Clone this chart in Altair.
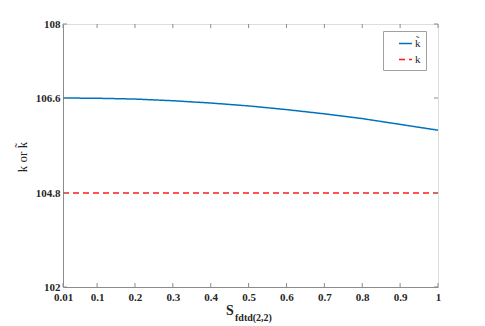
import altair as alt
import pandas as pd

# data
s_vals = [0.01, 0.1, 0.2, 0.3, 0.4, 0.5, 0.6, 0.7, 0.8, 0.9, 1.0]
k_tilde = [106.60, 106.595, 106.58, 106.548, 106.505, 106.45, 106.38, 106.30, 106.21, 106.10, 105.99]
k_const = [104.8] * len(s_vals)
x_ticks = [0.01, 0.1, 0.2, 0.3, 0.4, 0.5, 0.6, 0.7, 0.8, 0.9, 1.0]
y_ticks = [102, 104.8, 106.6, 108]
series_names = ["k\u0303", "k"]

W, H = 375, 263
FONT = "Liberation Serif"
AXIS_GREY = "#8c8c8c"

rows = []
for s, a, b in zip(s_vals, k_tilde, k_const):
    rows.append({"s": s, "k": a, "series": series_names[0]})
    rows.append({"s": s, "k": b, "series": series_names[1]})
df = pd.DataFrame(rows)

xscale = alt.Scale(domain=[0.01, 1.0], nice=False, zero=False)
yscale = alt.Scale(domain=y_ticks, range=[H, 169, 74, 0], nice=False, zero=False)

xaxis = alt.Axis(values=x_ticks, title=None, ticks=False, labelFont=FONT,
                 labelFontWeight="bold", labelFontSize=11, labelColor="#262626",
                 labelPadding=4, domainColor=AXIS_GREY, grid=False,
                 labelOverlap=False, labelFlush=False,
                 labelExpr="datum.value == 1 ? '1' : format(datum.value, '.2~f')")
yaxis = alt.Axis(values=y_ticks, title=None, ticks=False, labelFont=FONT,
                 labelFontWeight="bold", labelFontSize=11, labelColor="#262626",
                 labelPadding=3, domainColor=AXIS_GREY, grid=False,
                 labelOverlap=False, labelFlush=False,
                 labelExpr="format(datum.value, '.1~f')")

lines = alt.Chart(df).mark_line(strokeWidth=1.5, clip=True).encode(
    x=alt.X("s:Q", scale=xscale, axis=xaxis),
    y=alt.Y("k:Q", scale=yscale, axis=yaxis),
    color=alt.Color("series:N", scale=alt.Scale(domain=series_names, range=["#0072BD", "#FF1A1A"]),
                    legend=alt.Legend(title=None, orient="none", legendX=320, legendY=7,
                                      symbolType="stroke", symbolSize=169, symbolStrokeWidth=1.5,
                                      symbolOffset=10,
                                      labelFont=FONT, labelFontSize=11, labelColor="#262626",
                                      strokeColor="#a0a0a0", padding=5, fillColor="white",
                                      rowPadding=3, labelOffset=2, labelLimit=40)),
    strokeDash=alt.StrokeDash("series:N", scale=alt.Scale(domain=series_names, range=[[1, 0], [6, 4]]),
                              legend=None),
)

xt = pd.DataFrame({"t": x_ticks})
yt = pd.DataFrame({"t": y_ticks})
tick_style = dict(color=AXIS_GREY, strokeWidth=1)
xb = alt.Chart(xt).mark_rule(**tick_style).encode(
    x=alt.X("t:Q", scale=xscale, axis=xaxis), y=alt.value(H), y2=alt.value(H - 4))
xtp = alt.Chart(xt).mark_rule(**tick_style).encode(
    x=alt.X("t:Q", scale=xscale, axis=xaxis), y=alt.value(0), y2=alt.value(4))
yl = alt.Chart(yt).mark_rule(**tick_style).encode(
    y=alt.Y("t:Q", scale=yscale, axis=yaxis), x=alt.value(0), x2=alt.value(4))
yr = alt.Chart(yt).mark_rule(**tick_style).encode(
    y=alt.Y("t:Q", scale=yscale, axis=yaxis), x=alt.value(W), x2=alt.value(W - 4))

one = pd.DataFrame({"a": [0]})
ytitle = alt.Chart(one).mark_text(text="k or k\u0303", angle=270, font=FONT, fontSize=13,
                                  color="#262626").encode(x=alt.value(-40), y=alt.value(133))
xs = alt.Chart(one).mark_text(text="S", font=FONT, fontSize=14, fontWeight="bold",
                              color="#262626").encode(x=alt.value(167), y=alt.value(287))
xsub = alt.Chart(one).mark_text(text="fdtd(2,2)", font=FONT, fontSize=10, fontWeight="bold",
                                align="left", color="#262626").encode(x=alt.value(172), y=alt.value(294))

chart = alt.layer(lines, xb, xtp, yl, yr, ytitle, xs, xsub).properties(
    width=W, height=H,
    autosize=alt.AutoSizeParams(type="none"),
    padding={"left": 55, "top": 16, "right": 39, "bottom": 36},
).configure_view(stroke="#c8c8c8", strokeWidth=1).configure(background="white")

chart.save("out.html", embed_options={"renderer": "svg", "actions": False})
